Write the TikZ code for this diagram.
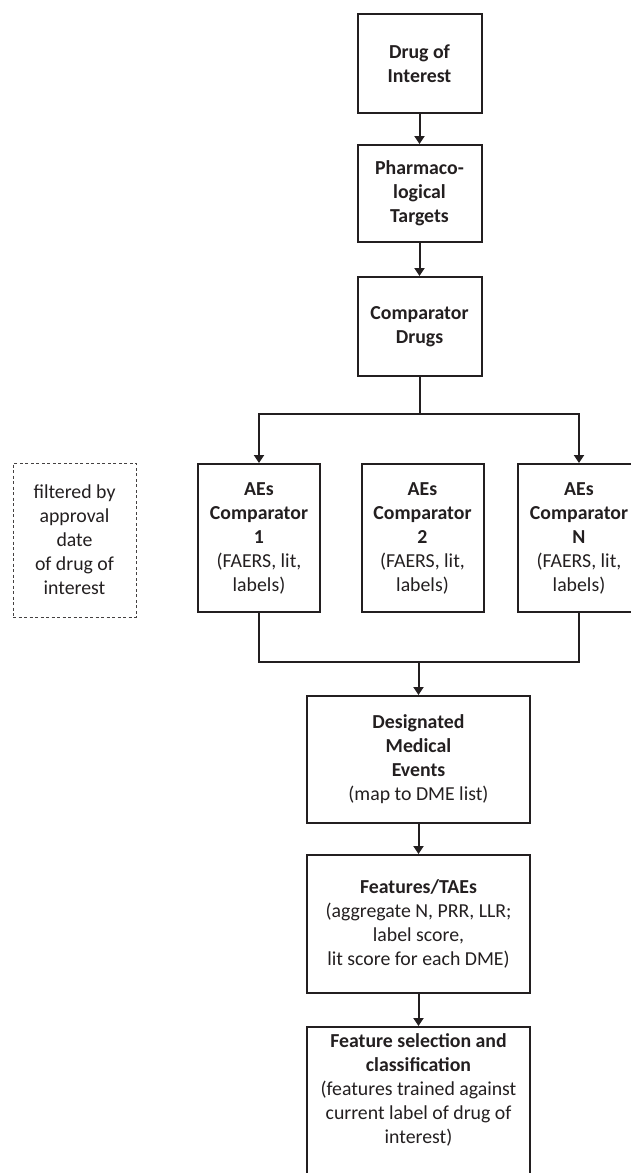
\documentclass[tikz,border=0pt]{standalone}
\usepackage{fontspec}
\setmainfont{Carlito}
\usetikzlibrary{arrows.meta}
\definecolor{ink}{RGB}{35,31,32}
\begin{document}
\begin{tikzpicture}[x=1pt,y=-1pt,
  box/.style={draw=ink, line width=2pt, inner sep=0pt, align=center, text=ink,
    font=\fontsize{19.8}{24}\selectfont},
  txt/.style={inner sep=0pt, align=center, text=ink, font=\fontsize{19.8}{24}\selectfont},
  dashbox/.style={box, line width=1pt, draw=ink!85, dash pattern=on 3pt off 2.5pt},
  conn/.style={draw=ink, line width=2pt},
  arr/.style={conn, -{Triangle[width=10pt,length=8pt]}}]
\useasboundingbox (0,0) rectangle (631,1173);
\clip (0,0) rectangle (631,1173);

\node[box, minimum width=124pt, minimum height=99pt] (doi) at (419.5,63.5)
  {\textbf{Drug of}\\\textbf{Interest}};
\node[box, minimum width=124pt, minimum height=97pt] (pt) at (419.5,193.5)
  {\textbf{Pharmaco-}\\\textbf{logical}\\\textbf{Targets}};
\node[box, minimum width=124pt, minimum height=99pt] (cd) at (419.5,326.5)
  {\textbf{Comparator}\\\textbf{Drugs}};

\node[dashbox, minimum width=123pt, minimum height=154pt] (filt) at (74.5,540)
  {filtered by\\approval\\date\\of drug of\\interest};

\node[box, minimum width=122pt, minimum height=148pt] (ae1) at (259,538)
  {\textbf{AEs}\\\textbf{Comparator}\\\textbf{1}\\(FAERS, lit,\\labels)};
\node[box, minimum width=122pt, minimum height=148pt] (ae2) at (422.5,538)
  {\textbf{AEs}\\\textbf{Comparator}\\\textbf{2}\\(FAERS, lit,\\labels)};
\node[box, minimum width=122pt, minimum height=148pt] (aen) at (579,538)
  {\textbf{AEs}\\\textbf{Comparator}\\\textbf{N}\\(FAERS, lit,\\labels)};

\node[box, minimum width=223pt, minimum height=127pt] (dme) at (418.5,759.5)
  {\textbf{Designated}\\\textbf{Medical}\\\textbf{Events}\\(map to DME list)};
\node[box, minimum width=223pt, minimum height=138pt] (feat) at (418.5,924)
  {\textbf{Features/TAEs}\\(aggregate N, PRR, LLR;\\label score,\\lit score for each DME)};
\node[box, anchor=north, minimum width=223pt, minimum height=220pt] (fsbox) at (418.5,1026) {};
\node[txt] (fstext) at (418.5,1090)
  {\textbf{Feature selection and}\\\textbf{classification}\\(features trained against\\current label of drug of\\interest)};

\draw[arr] (doi) -- (pt);
\draw[arr] (pt) -- (cd);
\draw[conn] (cd.south) -- ++(0,37) coordinate (br);
\draw[arr] (br) -| (ae1);
\draw[arr] (br) -| (aen);
\draw[conn] (ae1.south) -- ++(0,49) coordinate (ml) -| (aen.south);
\coordinate (mg) at (418.5,661);
\draw[arr] (mg) -- (dme);
\draw[arr] (dme) -- (feat);
\draw[arr] (feat) -- (fsbox);
\end{tikzpicture}
\end{document}
